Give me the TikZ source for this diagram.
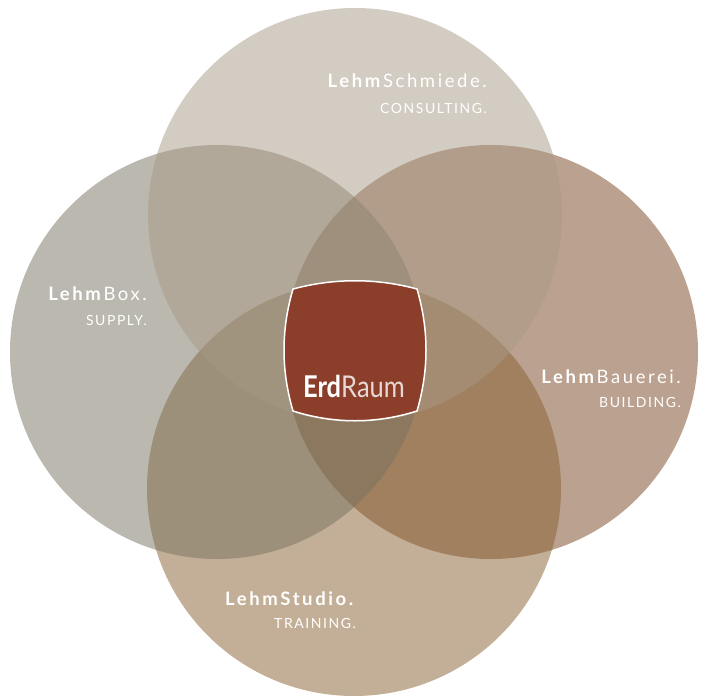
\documentclass[tikz,border=0pt]{standalone}
\usepackage{fontspec}
\usepackage{graphicx}
\setmainfont{Lato}

\definecolor{schmiedeclr}{HTML}{A79985}
\definecolor{boxclr}{HTML}{77715F}
\definecolor{bauereiclr}{HTML}{774521}
\definecolor{studioclr}{HTML}{875F2F}
\definecolor{erdclr}{HTML}{8B3E2A}

\begin{document}
\begin{tikzpicture}[x=1pt, y=-1pt]
    \tikzstyle{disc} = [circle, minimum size=414pt, inner sep=0pt, fill opacity=0.5]
    \tikzstyle{title} = [text=white, inner sep=0pt, anchor=base east,
      font=\fontsize{18.5}{20}\selectfont\addfontfeatures{LetterSpace=14}]
    \tikzstyle{claim} = [text=white, inner sep=0pt, anchor=base east,
      font=\fontsize{14}{16}\selectfont\addfontfeatures{LetterSpace=11}]

    \useasboundingbox (0,0) rectangle (704,696);

    % the four circles
    \node[disc, fill=bauereiclr] (bauerei) at (491,352) {};
    \node[disc, fill=studioclr] (studio) at (354,489) {};
    \node[disc, fill=boxclr] (box) at (217,352) {};
    \node[disc, fill=schmiedeclr] (schmiede) at (355,215) {};

    % centre
    \draw[fill=erdclr, draw=white, line width=1.5pt, line join=round]
      (293,289) .. controls (334,278) and (376,278) .. (417,289)
                .. controls (429,330) and (429,370) .. (417,411)
                .. controls (376,424) and (334,424) .. (293,411)
                .. controls (281,370) and (281,330) .. (293,289) -- cycle;
    \node[text=white, inner sep=0pt, anchor=base, font=\fontsize{30}{32}\selectfont]
      (erdraum) at (354,397) {\scalebox{0.85}[1]{\textbf{Erd}\textcolor{white!80!erdclr}{Raum}}};

    % labels
    \node[title] (schmiede-t) at (487,87) {\textbf{Lehm}Schmiede.};
    \node[claim] (schmiede-c) at (487,113) {CONSULTING.};
    \node[title] (box-t) at (147,300) {\textbf{Lehm}Box.};
    \node[claim] (box-c) at (147,325) {SUPPLY.};
    \node[title] (bauerei-t) at (681,383) {\textbf{Lehm}Bauerei.};
    \node[claim] (bauerei-c) at (681,407) {BUILDING.};
    \node[title] (studio-t) at (356,605) {\textbf{LehmStudio.}};
    \node[claim] (studio-c) at (356,628) {TRAINING.};
\end{tikzpicture}
\end{document}
